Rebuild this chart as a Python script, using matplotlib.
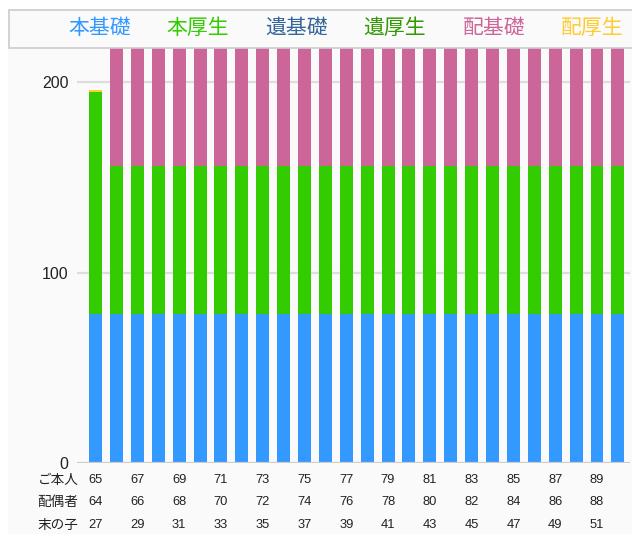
import matplotlib
matplotlib.use("Agg")
import matplotlib.pyplot as plt
from matplotlib.patches import Rectangle
from matplotlib.transforms import blended_transform_factory

plt.rcParams['font.family'] = ['Liberation Sans', 'Noto Sans CJK JP', 'DejaVu Sans']

# ---- data ----
ages_self = [65, 66, 67, 68, 69, 70, 71, 72, 73, 74, 75, 76, 77,
             78, 79, 80, 81, 82, 83, 84, 85, 86, 87, 88, 89, 90]
ages_spouse = [64, 65, 66, 67, 68, 69, 70, 71, 72, 73, 74, 75, 76,
               77, 78, 79, 80, 81, 82, 83, 84, 85, 86, 87, 88, 89]
ages_child = [27, 28, 29, 30, 31, 32, 33, 34, 35, 36, 37, 38, 39,
              40, 41, 42, 43, 44, 45, 46, 47, 48, 49, 50, 51, 52]

series_names = ['本基礎', '本厚生', '遺基礎', '遺厚生', '配基礎', '配厚生']
hon_kiso = [78, 78, 78, 78, 78, 78, 78, 78, 78, 78, 78, 78, 78,
            78, 78, 78, 78, 78, 78, 78, 78, 78, 78, 78, 78, 78]
hon_kosei = [117, 78, 78, 78, 78, 78, 78, 78, 78, 78, 78, 78, 78,
             78, 78, 78, 78, 78, 78, 78, 78, 78, 78, 78, 78, 78]
izoku_kiso = [0, 0, 0, 0, 0, 0, 0, 0, 0, 0, 0, 0, 0,
              0, 0, 0, 0, 0, 0, 0, 0, 0, 0, 0, 0, 0]
izoku_kosei = [0, 0, 0, 0, 0, 0, 0, 0, 0, 0, 0, 0, 0,
               0, 0, 0, 0, 0, 0, 0, 0, 0, 0, 0, 0, 0]
hai_kiso = [0, 78, 78, 78, 78, 78, 78, 78, 78, 78, 78, 78, 78,
            78, 78, 78, 78, 78, 78, 78, 78, 78, 78, 78, 78, 78]
hai_kosei = [0.6, 10, 10, 10, 10, 10, 10, 10, 10, 10, 10, 10, 10,
             10, 10, 10, 10, 10, 10, 10, 10, 10, 10, 10, 10, 10]
series_values = [hon_kiso, hon_kosei, izoku_kiso, izoku_kosei, hai_kiso, hai_kosei]
series_colors = ['#3399FF', '#33CC00', '#336699', '#339900', '#CC6699', '#FFCC33']

row_labels = ['ご本人', '配偶者', '末の子']
y_ticks = [0, 100, 200]

# ---- figure ----
W, H = 632, 534
fig = plt.figure(figsize=(W / 100, H / 100), dpi=100)
fig.patch.set_facecolor('white')

# light chart background
fig.add_artist(Rectangle((8 / W, 0), 1, 1 - 9 / H, transform=fig.transFigure,
                         facecolor='#FAFAFA', edgecolor='none', zorder=0))

ax_left, ax_right, ax_bottom, ax_top = 77, 630, 463, 47
ax = fig.add_axes([ax_left / W, 1 - ax_bottom / H, (ax_right - ax_left) / W,
                   (ax_bottom - ax_top) / H])
ax.set_facecolor('none')

n = len(ages_self)
xs = list(range(n))
bottoms = [0] * n
for vals, col in zip(series_values, series_colors):
    ax.bar(xs, vals, width=0.62, bottom=bottoms, color=col, zorder=3, linewidth=0)
    bottoms = [b + v for b, v in zip(bottoms, vals)]

ax.set_xlim(-0.89, n - 1 + 0.58)
ax.set_ylim(0, 218.4)
ax.set_yticks(y_ticks)
ax.set_yticklabels([str(t) for t in y_ticks], fontsize=11.5, color='#222222')
ax.tick_params(axis='y', length=0, pad=6)
ax.set_xticks([])
for s in ax.spines.values():
    s.set_visible(False)
for t in y_ticks[1:]:
    ax.axhline(t, color='#DDDDDD', lw=1.6, zorder=1)
ax.axhline(0, color='#CCCCCC', lw=1.6, zorder=4)

# ---- table of ages below ----
trans = blended_transform_factory(ax.transData, fig.transFigure)
row_y = [480, 502, 525]
rows = [ages_self, ages_spouse, ages_child]
for lab, ry, vals in zip(row_labels, row_y, rows):
    fig.text(58 / W, 1 - ry / H, lab, ha='center', va='center', fontsize=9.8,
             color='#222222')
    for i in range(0, n, 2):
        if i == n - 1:
            continue
        ax.text(i, 1 - ry / H, str(vals[i]), transform=trans, ha='center',
                va='center', fontsize=9.3, color='#222222')

# ---- legend box ----
fig.add_artist(Rectangle((9 / W, 1 - 47.5 / H), 1, (47.5 - 9.5) / H,
                         transform=fig.transFigure, facecolor='#FAFAFA',
                         edgecolor='#CCCCCC', lw=1.2, zorder=5))
leg_x = [100, 198, 297, 395, 494, 592]
for name, col, lx in zip(series_names, series_colors, leg_x):
    fig.text(lx / W, 1 - 28 / H, name, ha='center', va='center', fontsize=15,
             color=col, zorder=6, family=['Noto Sans CJK JP'])

fig.savefig('out.png', dpi=100, facecolor=fig.get_facecolor())
